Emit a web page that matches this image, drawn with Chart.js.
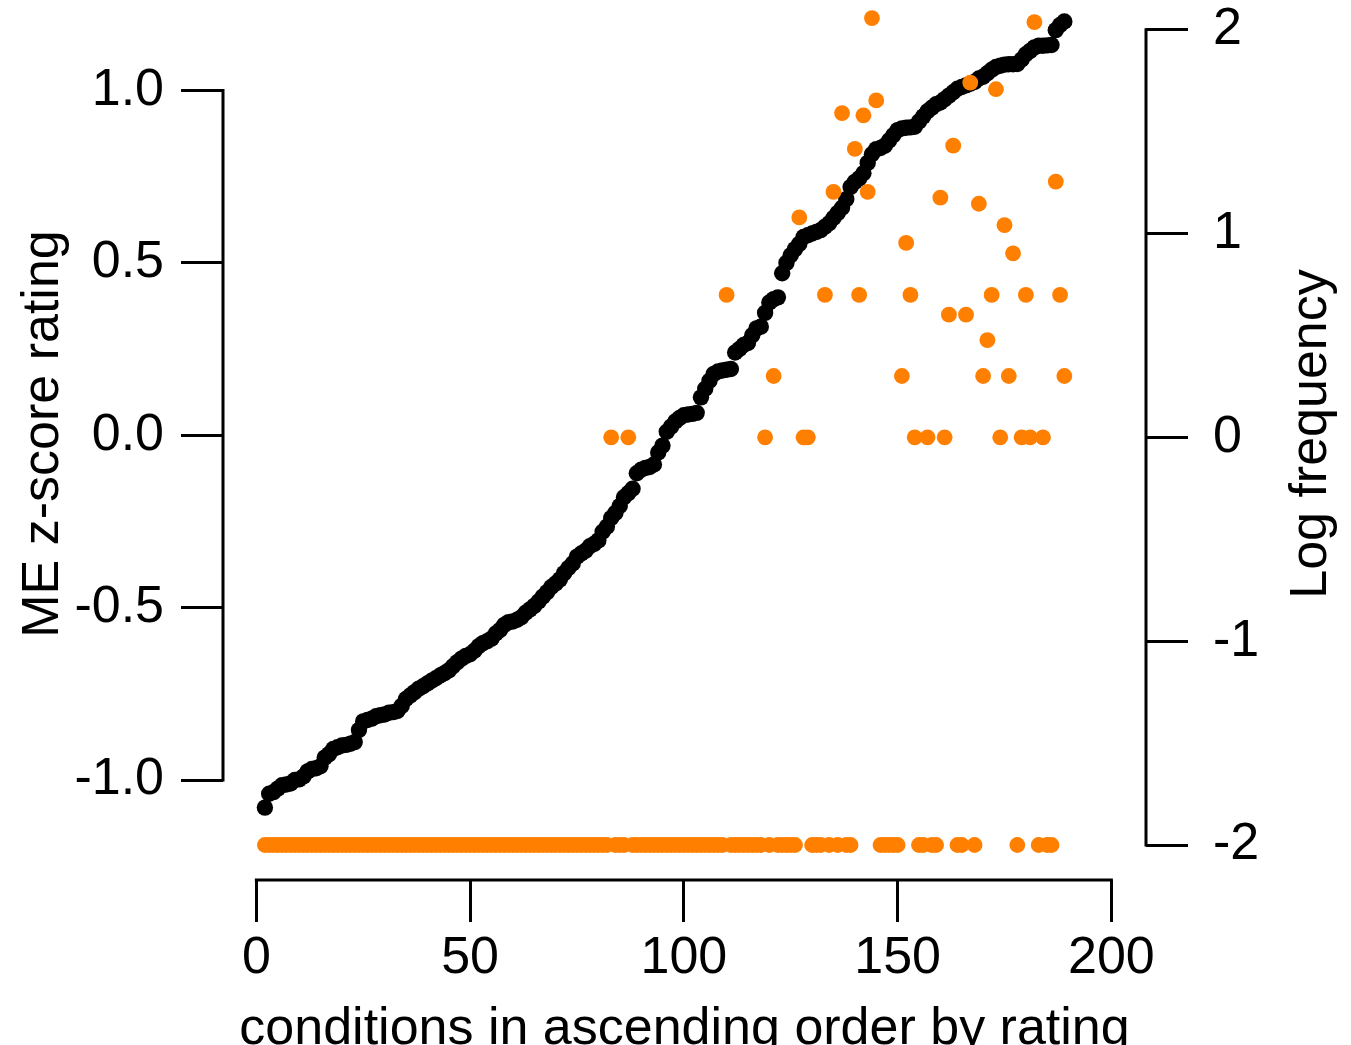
<!DOCTYPE html>
<html>
<head>
<meta charset="utf-8">
<title>ME z-score rating and log frequency</title>
<script src="https://cdn.jsdelivr.net/npm/chart.js@4.4.1/dist/chart.umd.min.js"></script>
<style>
    html, body { margin: 0; padding: 0; background: #fff; }
    canvas { display: block; }
</style>
</head>
<body>
<canvas id="ratingChart" width="1351" height="1045"></canvas>
<script>
// rank of the first plotted condition
const firstRank = 2;

// ME z-score rating per condition, ascending (left axis)
const meRatings = [
    -1.08, -1.04, -1.035, -1.025, -1.015, -1.013, -1.01, -1.0, -0.998, -0.99,
    -0.975, -0.968, -0.966, -0.96, -0.935, -0.925, -0.91, -0.905, -0.9, -0.898,
    -0.895, -0.89, -0.855, -0.83, -0.826, -0.822, -0.815, -0.812, -0.81, -0.805,
    -0.803, -0.8, -0.785, -0.765, -0.755, -0.745, -0.735, -0.728, -0.72, -0.712,
    -0.705, -0.697, -0.69, -0.682, -0.67, -0.658, -0.648, -0.64, -0.635, -0.625,
    -0.612, -0.603, -0.597, -0.59, -0.575, -0.565, -0.55, -0.542, -0.54, -0.535,
    -0.528, -0.515, -0.505, -0.495, -0.482, -0.468, -0.455, -0.44, -0.43, -0.418,
    -0.4, -0.385, -0.372, -0.352, -0.343, -0.335, -0.322, -0.315, -0.305, -0.28,
    -0.265, -0.24, -0.225, -0.205, -0.18, -0.168, -0.155, -0.11, -0.1, -0.095,
    -0.092, -0.085, -0.05, -0.03, 0.01, 0.025, 0.04, 0.05, 0.058, 0.06,
    0.062, 0.065, 0.11, 0.135, 0.158, 0.178, 0.185, 0.188, 0.19, 0.192,
    0.24, 0.25, 0.262, 0.268, 0.29, 0.31, 0.315, 0.355, 0.385, 0.395,
    0.4, 0.47, 0.5, 0.522, 0.54, 0.555, 0.575, 0.58, 0.585, 0.59,
    0.595, 0.605, 0.615, 0.63, 0.645, 0.66, 0.685, 0.72, 0.735, 0.745,
    0.76, 0.79, 0.815, 0.83, 0.833, 0.84, 0.855, 0.87, 0.885, 0.89,
    0.892, 0.893, 0.895, 0.91, 0.925, 0.94, 0.95, 0.96, 0.965, 0.975,
    0.985, 0.995, 1.005, 1.01, 1.015, 1.02, 1.025, 1.035, 1.04, 1.05,
    1.06, 1.068, 1.072, 1.075, 1.076, 1.076, 1.077, 1.09, 1.105, 1.115,
    1.125, 1.13, 1.13, 1.131, 1.132, 1.175, 1.19, 1.2
];

// conditions that occur: rank and log frequency (right axis)
const freqRanks = [
    83, 87, 110, 119, 121, 127, 128, 129, 133, 135,
    137, 140, 141, 142, 143, 144, 145, 151, 152, 153,
    154, 157, 160, 161, 162, 163, 166, 167, 169, 170,
    171, 172, 173, 174, 175, 176, 177, 179, 180, 181,
    182, 184, 187, 188, 189
];
const freqLogs = [
    0, 0, 0.699, 0, 0.301, 1.079, 0, 0, 0.699, 1.204,
    1.591, 1.415, 0.699, 1.58, 1.204, 2.057, 1.653, 0.301, 0.954, 0.699,
    0, 0, 1.176, 0, 0.602, 1.431, 0.602, 1.74, 1.146, 0.301,
    0.477, 0.699, 1.708, 0, 1.041, 0.301, 0.903, 0, 0.699, 0,
    2.037, 0, 1.255, 0.699, 0.301
];
// conditions never found sit on the floor of the right axis
const zeroFreqLog = -2;

const xTicks = [0, 50, 100, 150, 200];
const leftTicks = [-1, -0.5, 0, 0.5, 1];
const rightTicks = [-2, -1, 0, 1, 2];

const fontFamily = "'Liberation Sans', Arial, Helvetica, sans-serif";
Chart.defaults.font.family = fontFamily;
Chart.defaults.color = '#000';

// points
const ratingPoints = meRatings.map((v, i) => ({ x: firstRank + i, y: v }));
const logFreq = meRatings.map(() => zeroFreqLog);
freqRanks.forEach((r, k) => { logFreq[r - firstRank] = freqLogs[k]; });
const freqPoints = logFreq.map((v, i) => ({ x: firstRank + i, y: v }));

// R style axes: line only between first and last tick, titles outside
const rAxes = {
    id: 'rAxes',
    afterDraw(chart) {
        const { ctx, chartArea, scales } = chart;
        const y = scales.y, y2 = scales.y2, x = scales.x;
        ctx.save();
        ctx.strokeStyle = '#000';
        ctx.lineWidth = 3;
        ctx.lineCap = 'square';
        ctx.beginPath();
        ctx.moveTo(chartArea.left, y.getPixelForValue(leftTicks[0]));
        ctx.lineTo(chartArea.left, y.getPixelForValue(leftTicks[leftTicks.length - 1]));
        ctx.moveTo(chartArea.right, y2.getPixelForValue(rightTicks[0]));
        ctx.lineTo(chartArea.right, y2.getPixelForValue(rightTicks[rightTicks.length - 1]));
        ctx.moveTo(x.getPixelForValue(xTicks[0]), chartArea.bottom);
        ctx.lineTo(x.getPixelForValue(xTicks[xTicks.length - 1]), chartArea.bottom);
        ctx.stroke();

        ctx.fillStyle = '#000';
        ctx.font = '52px ' + fontFamily;
        ctx.textAlign = 'center';
        ctx.textBaseline = 'alphabetic';
        ctx.fillText('conditions in ascending order by rating', (chartArea.left + chartArea.right) / 2, 1044);

        ctx.translate(58, 434);
        ctx.rotate(-Math.PI / 2);
        ctx.fillText('ME z-score rating', 0, 0);
        ctx.rotate(Math.PI / 2);
        ctx.translate(1326 - 58, 0);
        ctx.rotate(-Math.PI / 2);
        ctx.fillText('Log frequency', 0, 0);
        ctx.restore();
    }
};

function noPad(s) {
    s.paddingTop = 0;
    s.paddingBottom = 0;
    s.paddingLeft = 0;
    s.paddingRight = 0;
}

const tickGrid = {
    drawOnChartArea: false,
    drawTicks: true,
    tickLength: 42,
    tickWidth: 3,
    tickColor: '#000'
};

new Chart(document.getElementById('ratingChart'), {
    type: 'scatter',
    data: {
        datasets: [
            {
                label: 'Log frequency',
                data: freqPoints,
                yAxisID: 'y2',
                backgroundColor: '#ff7f00',
                borderWidth: 0,
                pointRadius: 7.9,
                clip: false,
                order: 0
            },
            {
                label: 'ME z-score rating',
                data: ratingPoints,
                yAxisID: 'y',
                backgroundColor: '#000',
                borderWidth: 0,
                pointRadius: 8.2,
                clip: false,
                order: 1
            }
        ]
    },
    options: {
        responsive: false,
        animation: false,
        devicePixelRatio: 1,
        layout: { padding: 0, autoPadding: false },
        plugins: {
            legend: { display: false },
            tooltip: { enabled: false }
        },
        scales: {
            x: {
                type: 'linear',
                position: 'bottom',
                min: -7.8,
                max: 208.1,
                afterBuildTicks: s => { s.ticks = xTicks.map(v => ({ value: v })); },
                afterFit: s => { s.height = 165; noPad(s); },
                border: { display: false },
                grid: tickGrid,
                ticks: {
                    font: { size: 52 },
                    padding: 5,
                    maxRotation: 0,
                    autoSkip: false,
                    callback: v => String(v)
                }
            },
            y: {
                type: 'linear',
                position: 'left',
                min: -1.29,
                max: 1.2625,
                afterBuildTicks: s => { s.ticks = leftTicks.map(v => ({ value: v })); },
                afterFit: s => { s.width = 223; noPad(s); },
                border: { display: false },
                grid: tickGrid,
                ticks: {
                    font: { size: 52 },
                    padding: 17,
                    autoSkip: false,
                    callback: v => v.toFixed(1)
                }
            },
            y2: {
                type: 'linear',
                position: 'right',
                min: -2.1717,
                max: 2.1457,
                afterBuildTicks: s => { s.ticks = rightTicks.map(v => ({ value: v })); },
                afterFit: s => { s.width = 205; noPad(s); },
                border: { display: false },
                grid: tickGrid,
                ticks: {
                    font: { size: 52 },
                    padding: 25,
                    autoSkip: false,
                    callback: v => String(v)
                }
            }
        }
    },
    plugins: [rAxes]
});
</script>
</body>
</html>
